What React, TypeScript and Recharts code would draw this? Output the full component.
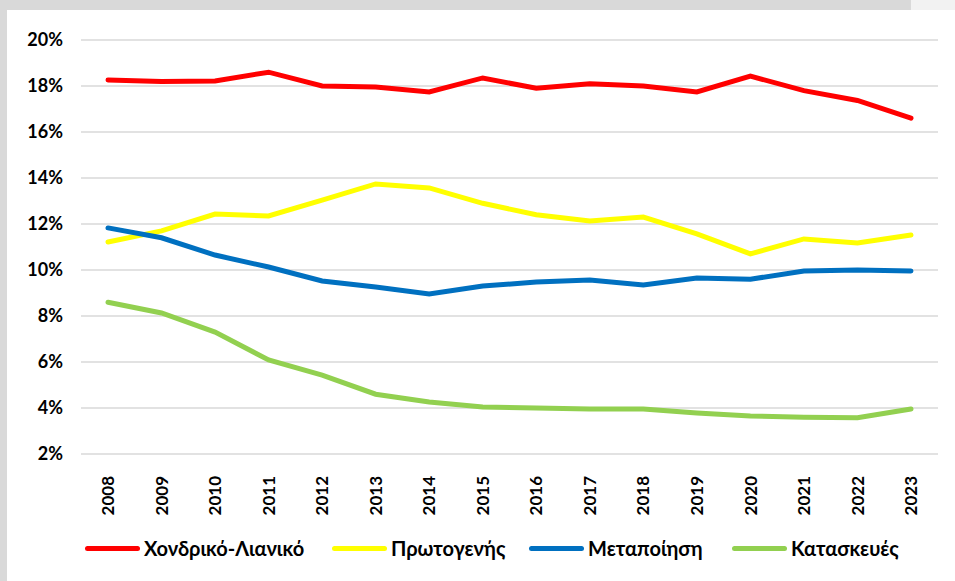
// @ts-nocheck
import React from 'react'
import { LineChart, Line, XAxis, YAxis, CartesianGrid } from 'recharts'

const years = ['2008', '2009', '2010', '2011', '2012', '2013', '2014', '2015', '2016', '2017', '2018', '2019', '2020', '2021', '2022', '2023']
const wholesaleRetail = [18.26, 18.2, 18.22, 18.6, 18.0, 17.96, 17.74, 18.35, 17.9, 18.1, 18.0, 17.74, 18.43, 17.8, 17.37, 16.6]
const primary = [11.22, 11.7, 12.43, 12.35, 13.04, 13.74, 13.57, 12.9, 12.4, 12.13, 12.3, 11.57, 10.7, 11.35, 11.17, 11.52]
const manufacturing = [11.83, 11.4, 10.65, 10.13, 9.52, 9.26, 8.96, 9.3, 9.48, 9.57, 9.35, 9.65, 9.6, 9.96, 10.0, 9.96]
const construction = [8.6, 8.13, 7.3, 6.09, 5.43, 4.6, 4.26, 4.04, 4.0, 3.96, 3.96, 3.78, 3.65, 3.6, 3.58, 3.96]
const yTicks = [2, 4, 6, 8, 10, 12, 14, 16, 18, 20]

const series = [
  { key: 'wholesaleRetail', name: 'Χονδρικό-Λιανικό', color: '#FF0000', left: 85 },
  { key: 'primary', name: 'Πρωτογενής', color: '#FFFF00', left: 332 },
  { key: 'manufacturing', name: 'Μεταποίηση', color: '#0070C0', left: 529 },
  { key: 'construction', name: 'Κατασκευές', color: '#92D050', left: 732 },
]

const data = years.map((y, i) => ({
  year: y,
  wholesaleRetail: wholesaleRetail[i],
  primary: primary[i],
  manufacturing: manufacturing[i],
  construction: construction[i],
}))

const font = 'Lato, "Open Sans", "Noto Sans", sans-serif'

const YearTick = ({ x, y, payload }: any) => (
  <text
    x={0}
    y={0}
    dy="0.36em"
    textAnchor="end"
    transform={`translate(${x},${y + 14}) rotate(-90)`}
    fill="#000"
    fontSize={17}
    fontWeight={700}
    fontFamily={font}
  >
    {payload.value}
  </text>
)

export default function App() {
  return (
    <div style={{ position: 'absolute', left: 0, top: 0, width: 955, height: 581, background: '#d9d9d9', overflow: 'hidden' }}>
      <div style={{ position: 'absolute', left: 911, top: 0, width: 44, height: 10, background: '#f2f2f2' }} />
      <div style={{ position: 'absolute', left: 7, top: 10, width: 948, height: 571, background: '#fff' }} />
      <div style={{ position: 'absolute', left: 0, top: 0 }}>
        <LineChart width={955} height={581} data={data} margin={{ top: 40, right: 17, left: 0, bottom: 0 }}>
          <CartesianGrid vertical={false} stroke="#d9d9d9" strokeWidth={1.5} />
          <XAxis dataKey="year" height={127} axisLine={false} tickLine={false} tick={<YearTick />} interval={0} padding={{ left: 27, right: 27 }} />
          <YAxis
            domain={[2, 20]}
            ticks={yTicks}
            width={81}
            axisLine={false}
            tickLine={false}
            tickFormatter={(v: any) => `${v}%`}
            tick={{ fill: '#000', fontSize: 18, fontWeight: 700, fontFamily: font }}
            tickMargin={12}
          />
          {series.map(s => (
            <Line key={s.key} type="linear" dataKey={s.key} name={s.name} stroke={s.color} strokeWidth={5} dot={false} isAnimationActive={false} strokeLinecap="round" />
          ))}
        </LineChart>
      </div>
      {series.map(s => (
        <div key={s.key} style={{ position: 'absolute', left: s.left, top: 535, height: 26, display: 'flex', alignItems: 'center', fontFamily: font, fontSize: 20, fontWeight: 700, color: '#000', whiteSpace: 'nowrap' }}>
          <span style={{ width: 55, height: 5, borderRadius: 3, background: s.color, display: 'inline-block', marginRight: 4 }} />
          <span>{s.name}</span>
        </div>
      ))}
    </div>
  )
}
